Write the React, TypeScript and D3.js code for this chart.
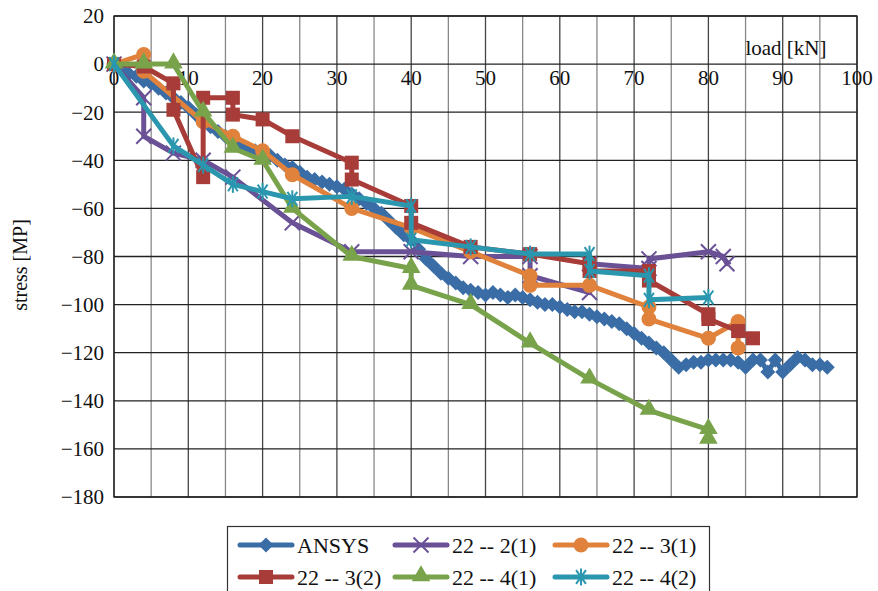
import React from "react";
import * as d3 from "d3";

const ansysX = [0,1,2,3,4,5,6,7,8,9,10,11,12,13,14,15,16,17,18,19,20,21,22,23,24,25,26,27,28,29,30,31,32,33,34,35,36,37,38,39,40,41,42,43,44,45,46,47,48,49,50,51,52,53,54,55,56,57,58,59,60,61,62,63,64,65,66,67,68,69,70,71,72,73,74,75,76,77,78,79,80,81,82,83,84,85,86,87,88,89,90,91,92,93,94,95,96];
const ansysY = [0,-2,-4,-5,-7,-8,-10,-12,-14,-16,-18,-21,-24,-26,-28,-30,-32,-34,-35,-36,-37,-38,-40,-42,-43,-45,-47,-48,-49,-50,-51,-52,-54,-56,-58,-60,-62,-65,-68,-71,-73,-77,-81,-84,-87,-89,-91,-93,-94,-95,-96,-95,-96,-97,-96,-97,-98,-99,-100,-100,-101,-102,-103,-103,-104,-105,-106,-107,-108,-110,-112,-114,-116,-118,-120,-123,-126,-125,-124,-124,-123,-123,-123,-123,-124,-126,-123,-123,-128,-123,-128,-125,-122,-123,-125,-125,-126];

const s21X = [0,4,4,8,12,16,24,32,40,48,56,56,64,64,72,72,80,82,82.5];
const s21Y = [0,-14,-30,-37,-40,-47,-66,-78,-78,-80,-80,-88,-95,-83,-85,-81,-78,-80,-83];

const s31X = [0,4,4,12,16,20,24,32,40,48,56,56,64,72,72,80,84,84];
const s31Y = [0,4,-3,-24,-30,-36,-46,-60,-68,-78,-88,-92,-92,-101,-106,-114,-107,-118];

const s32X = [0,4,8,8,12,12,16,16,20,24,32,32,40,40,48,56,64,64,72,72,80,80,84,86];
const s32Y = [0,-1,-8,-19,-47,-14,-14,-21,-23,-30,-41,-48,-59,-66,-76,-79,-83,-86,-86,-90,-104,-106,-111,-114];

const s41X = [0,4,8,12,16,20,24,32,40,40,48,56,64,72,80,80];
const s41Y = [0,0,0,-20,-35,-40,-60,-80,-85,-92,-100,-116,-131,-144,-152,-156];

const s42X = [0,8,12,16,20,24,32,40,40,48,56,64,64,72,72,80];
const s42Y = [0,-34,-42,-50,-53,-56,-55,-59,-73,-76,-79,-79,-86,-88,-98,-97];

const seriesNames = ["ANSYS", "22 -- 2(1)", "22 -- 3(1)", "22 -- 3(2)", "22 -- 4(1)", "22 -- 4(2)"];
const seriesColors = ["#3A6DA6", "#6A5196", "#E0823C", "#A83C38", "#79A34B", "#2A97AF"];
const seriesMarkers = ["diamond", "x", "circle", "square", "triangle", "asterisk"];
const seriesXs = [ansysX, s21X, s31X, s32X, s41X, s42X];
const seriesYs = [ansysY, s21Y, s31Y, s32Y, s41Y, s42Y];

const xTicks = [0,10,20,30,40,50,60,70,80,90,100];
const yTicks = [20,0,-20,-40,-60,-80,-100,-120,-140,-160,-180];
const xGrid = d3.range(0, 101, 5);

const FONT = "'Liberation Serif', 'DejaVu Serif', serif";

function Marker({ type, x, y, color }: { type: string; x: number; y: number; color: string }) {
  const s = 7.5;
  if (type === "diamond") {
    return <path d={`M${x},${y - s} L${x + s},${y} L${x},${y + s} L${x - s},${y} Z`} fill={color} />;
  }
  if (type === "square") {
    return <rect x={x - 7} y={y - 7} width={14} height={14} fill={color} />;
  }
  if (type === "circle") {
    return <circle cx={x} cy={y} r={7.5} fill={color} />;
  }
  if (type === "triangle") {
    const p = d3.symbol().type(d3.symbolTriangle).size(150)() as string;
    return <path d={p} transform={`translate(${x},${y - 1})`} fill={color} />;
  }
  if (type === "x") {
    return (
      <g stroke={color} strokeWidth={2}>
        <line x1={x - s} y1={y - s} x2={x + s} y2={y + s} />
        <line x1={x - s} y1={y + s} x2={x + s} y2={y - s} />
      </g>
    );
  }
  const a = 8.5;
  const dx = a * Math.cos(Math.PI / 3.3);
  const dy = a * Math.sin(Math.PI / 3.3);
  return (
    <g stroke={color} strokeWidth={2}>
      <line x1={x} y1={y - a} x2={x} y2={y + a} />
      <line x1={x - dx} y1={y - dy} x2={x + dx} y2={y + dy} />
      <line x1={x - dx} y1={y + dy} x2={x + dx} y2={y - dy} />
    </g>
  );
}

export default function App() {
  const W = 878, H = 591;
  const left = 114, right = 857, top = 16, bottom = 497;
  const x = d3.scaleLinear().domain([0, 100]).range([left, right]);
  const y = d3.scaleLinear().domain([-180, 20]).range([bottom, top]);
  const line = d3.line<[number, number]>().x(d => x(d[0])).y(d => y(d[1]));

  const legendCols = [240, 395, 555];
  const legendRows = [545, 577];

  return (
    <svg width={W} height={H} style={{ position: "absolute", left: 0, top: 0, background: "#fff" }} fontFamily={FONT}>
      <rect x={0} y={0} width={W} height={H} fill="#fff" />
      {xGrid.map(v => (
        <line key={"xg" + v} x1={x(v)} x2={x(v)} y1={top} y2={bottom}
          stroke={v % 10 === 0 ? "#444" : "#888"} strokeWidth={1.3} />
      ))}
      {yTicks.map(v => (
        <line key={"yg" + v} x1={left} x2={right} y1={y(v)} y2={y(v)} stroke="#222" strokeWidth={1.3} />
      ))}
      <rect x={left} y={top} width={right - left} height={bottom - top} fill="none" stroke="#222" strokeWidth={1.3} />
      {yTicks.map(v => (
        <text key={"yt" + v} x={left - 10} y={y(v)} dy="0.35em" textAnchor="end" fontSize={21} fill="#111">
          {v < 0 ? "\u2212" + Math.abs(v) : String(v)}
        </text>
      ))}
      {xTicks.map(v => (
        <text key={"xt" + v} x={x(v)} y={y(0) + 14} dy="0.35em" textAnchor="middle" fontSize={21} fill="#111">
          {v}
        </text>
      ))}
      <text x={786} y={48} dy="0.35em" textAnchor="middle" fontSize={21} fill="#111">load [kN]</text>
      <text transform={`translate(20,265) rotate(-90)`} textAnchor="middle" dy="0.35em" fontSize={20} fill="#111">stress [MP]</text>

      {seriesNames.map((name, i) => {
        const pts: [number, number][] = seriesXs[i].map((vx, k) => [vx, seriesYs[i][k]]);
        return (
          <g key={name}>
            <path d={line(pts) as string} fill="none" stroke={seriesColors[i]} strokeWidth={5} strokeLinejoin="round" strokeLinecap="round" />
            {pts.map((p, k) => (
              <Marker key={k} type={seriesMarkers[i]} x={x(p[0])} y={y(p[1])} color={seriesColors[i]} />
            ))}
          </g>
        );
      })}

      <rect x={227.5} y={526.5} width={482} height={80} fill="#fff" stroke="#333" strokeWidth={1.2} />
      {seriesNames.map((name, i) => {
        const cx = legendCols[i % 3];
        const cy = legendRows[Math.floor(i / 3)];
        return (
          <g key={"lg" + name}>
            <line x1={cx} x2={cx + 52} y1={cy} y2={cy} stroke={seriesColors[i]} strokeWidth={5} strokeLinecap="round" />
            <Marker type={seriesMarkers[i]} x={cx + 26} y={cy} color={seriesColors[i]} />
            <text x={cx + 57} y={cy} dy="0.35em" fontSize={22} fill="#111">{name}</text>
          </g>
        );
      })}
    </svg>
  );
}
